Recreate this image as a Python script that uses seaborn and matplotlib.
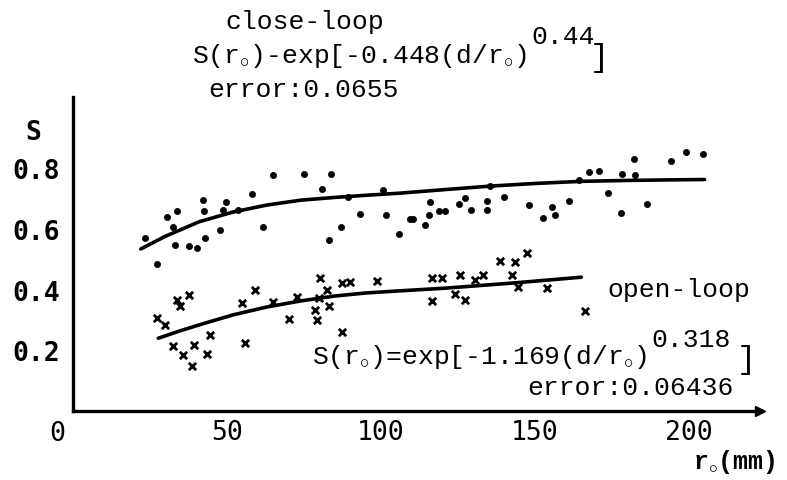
import matplotlib
matplotlib.use("Agg")
import matplotlib.pyplot as plt
import seaborn as sns
import pandas as pd

# ---- data ----
close_x = [23.4, 27.2, 30.4, 33.7, 32.6, 33.1, 37.8, 40.4, 42.9, 42.5, 42.3, 47.7, 48.8, 49.7,
           53.7, 58.2, 61.8, 65.0, 75.0, 80.7, 83.8, 83.2, 86.9, 89.4, 93.2, 100.6, 101.6, 105.9,
           109.4, 110.5, 114.3, 115.7, 115.9, 118.9, 120.8, 125.4, 127.3, 129.1, 134.5, 134.5,
           135.4, 140.0, 148.0, 152.7, 155.6, 156.5, 161.0, 164.4, 167.5, 170.6, 173.8, 178.1,
           182.5, 182.1, 177.8, 186.3, 194.2, 199.0, 204.6]
close_y = [0.570, 0.485, 0.638, 0.658, 0.608, 0.548, 0.543, 0.537, 0.570, 0.658, 0.696, 0.597,
           0.663, 0.689, 0.663, 0.715, 0.608, 0.777, 0.781, 0.732, 0.781, 0.562, 0.605, 0.706,
           0.649, 0.729, 0.647, 0.583, 0.634, 0.634, 0.614, 0.647, 0.690, 0.658, 0.658, 0.682,
           0.702, 0.663, 0.693, 0.663, 0.743, 0.707, 0.678, 0.636, 0.671, 0.645, 0.693, 0.762,
           0.787, 0.792, 0.718, 0.781, 0.777, 0.829, 0.652, 0.682, 0.823, 0.855, 0.847]

open_x = [27.2, 29.9, 34.7, 37.8, 33.7, 32.6, 35.8, 38.5, 39.3, 43.6, 44.5, 54.8, 59.1, 55.8,
          65.0, 70.0, 72.6, 79.1, 78.6, 79.7, 80.2, 82.4, 83.2, 87.2, 89.9, 98.6, 87.2, 116.5,
          119.7, 125.6, 130.5, 133.2, 116.5, 124.0, 127.3, 138.6, 143.5, 147.3, 142.4, 144.6,
          153.8, 166.2]
open_y = [0.306, 0.284, 0.345, 0.383, 0.367, 0.213, 0.186, 0.147, 0.216, 0.188, 0.249, 0.356,
          0.400, 0.224, 0.359, 0.304, 0.375, 0.301, 0.334, 0.372, 0.438, 0.400, 0.345, 0.422,
          0.424, 0.429, 0.262, 0.438, 0.438, 0.449, 0.433, 0.449, 0.361, 0.385, 0.367, 0.495,
          0.491, 0.521, 0.449, 0.408, 0.405, 0.328]

close_fit_x = [22, 30, 41, 52, 63, 74, 85, 95, 106, 121, 135, 150, 165, 180, 195, 205]
close_fit_y = [0.534, 0.576, 0.624, 0.656, 0.679, 0.695, 0.704, 0.711, 0.718, 0.730, 0.741,
               0.750, 0.757, 0.760, 0.762, 0.763]
open_fit_x = [27.7, 35, 41, 52, 63, 74, 85, 95, 106, 121, 143, 165]
open_fit_y = [0.240, 0.265, 0.284, 0.317, 0.343, 0.363, 0.379, 0.389, 0.396, 0.405, 0.422, 0.441]

x_ticks = [50, 100, 150, 200]
y_ticks = [0.2, 0.4, 0.6, 0.8]

# ---- figure ----
sns.set_theme(style="white")
plt.rcParams['font.family'] = ['Liberation Mono', 'DejaVu Sans Mono', 'DejaVu Sans']
plt.rcParams['mathtext.fontset'] = 'custom'
plt.rcParams['mathtext.rm'] = 'Liberation Mono'

W, H = 787, 481
fig = plt.figure(figsize=(W / 100, H / 100), dpi=100)
ax = fig.add_axes([73 / W, 1 - 412 / H, 687 / W, 314 / H])

df_c = pd.DataFrame({"r": close_x, "S": close_y})
df_o = pd.DataFrame({"r": open_x, "S": open_y})
df_cf = pd.DataFrame({"r": close_fit_x, "S": close_fit_y})
df_of = pd.DataFrame({"r": open_fit_x, "S": open_fit_y})

sns.scatterplot(data=df_c, x="r", y="S", ax=ax, color="black", s=20, edgecolor="black",
                linewidth=0.5, legend=False, clip_on=False)
sns.scatterplot(data=df_o, x="r", y="S", ax=ax, color="black", marker="x", s=28,
                linewidth=2.0, legend=False, clip_on=False)
sns.lineplot(data=df_cf, x="r", y="S", ax=ax, color="black", linewidth=2.6, sort=True,
             estimator=None)
sns.lineplot(data=df_of, x="r", y="S", ax=ax, color="black", linewidth=2.6, sort=True,
             estimator=None)

ax.set_xlim(0, 223)
ax.set_ylim(0, 1.035)
for side in ["top", "right"]:
    ax.spines[side].set_visible(False)
for side in ["left", "bottom"]:
    ax.spines[side].set_linewidth(2.4)
    ax.spines[side].set_color("black")
ax.plot(1, 0, ">", color="black", markersize=7, transform=ax.transAxes, clip_on=False)

ax.set_xticks(x_ticks)
ax.set_xticklabels([str(v) for v in x_ticks])
ax.set_yticks(y_ticks)
ax.set_yticklabels([f"{v:.1f}" for v in y_ticks])
ax.tick_params(axis="x", direction="in", length=7, width=2, pad=6, labelsize=19, colors="black")
ax.tick_params(axis="y", direction="in", length=10, width=2.4, pad=9, labelsize=19, colors="black")
for lab in ax.get_yticklabels():
    lab.set_fontfamily(['DejaVu Sans Mono'])
    lab.set_fontweight('bold')
for lab in ax.get_xticklabels():
    lab.set_fontfamily(['DejaVu Sans Mono'])
ax.set_xlabel("")
ax.set_ylabel("")


def ftext(x, y, s, size=19, **kw):
    fig.text(x / W, 1 - y / H, s, fontsize=size, va="center", ha="left", color="black", **kw)


# axis-corner labels
ftext(49, 434, "0", size=19, family=['DejaVu Sans Mono'])
ftext(25, 133, "S", size=19, family=['DejaVu Sans Mono'], fontweight='bold')
ftext(693, 462, r"r$_{\circ}$(mm)", size=18, fontweight='bold')

# close-loop annotation
ftext(225, 22, "close-loop")
ftext(192, 56, r"S(r$_{\circ}$)-exp[-0.448(d/r$_{\circ}$)")
ftext(531, 37, "0.44")
ftext(590, 58, "]", size=23)
ftext(208, 90, "error:0.0655")

# open-loop annotation
ftext(607, 290, "open-loop")
ftext(312, 357, r"S(r$_{\circ}$)=exp[-1.169(d/r$_{\circ}$)")
ftext(651, 340, "0.318")
ftext(737, 360, "]", size=23)
ftext(527, 388, "error:0.06436")

fig.savefig("out.png", dpi=100, facecolor="white")
